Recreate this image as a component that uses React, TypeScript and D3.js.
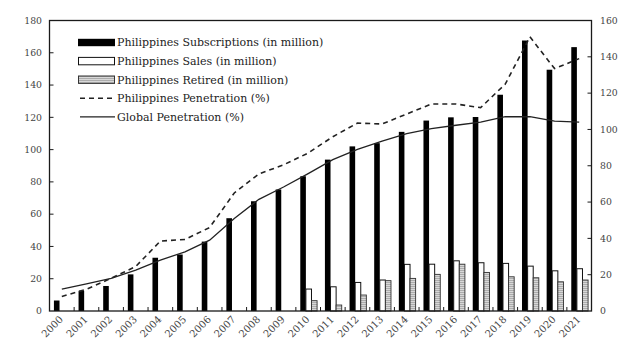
import React from "react";
import * as d3 from "d3";

// Years on the category axis
const years = [
  "2000", "2001", "2002", "2003", "2004", "2005", "2006", "2007", "2008", "2009", "2010",
  "2011", "2012", "2013", "2014", "2015", "2016", "2017", "2018", "2019", "2020", "2021",
];

// Millions (left axis)
const subscriptions = [6.5, 12.5, 15.5, 22.7, 33, 35, 43, 57.5, 68, 75.3, 83.5, 93.8, 102, 104, 111, 118, 120, 120.2, 134, 167.6, 149.5, 163.5];
const sales = [null, null, null, null, null, null, null, null, null, null, 13.6, 15, 17.7, 19.2, 28.9, 29, 31.1, 29.9, 29.5, 27.8, 24.9, 26.2];
const retired = [null, null, null, null, null, null, null, null, null, null, 6.4, 3.7, 9.9, 18.8, 20.2, 22.7, 29, 23.9, 21.2, 20.6, 18.1, 19.2];

// Percent (right axis)
const phPenetration = [8, 12, 18, 24.5, 38.5, 39.4, 46, 65, 75.5, 80.5, 87, 96, 103.5, 103, 108.5, 114, 114, 112, 125, 151, 133.5, 139];
const globalPenetration = [12, 15, 18, 22.5, 28, 32.6, 39, 51, 61.5, 68.3, 75.7, 83.4, 89, 93.6, 97.7, 100.4, 102.3, 104, 107, 107, 104.6, 104];

const leftTicks = [0, 20, 40, 60, 80, 100, 120, 140, 160, 180];
const rightTicks = [0, 20, 40, 60, 80, 100, 120, 140, 160];

const legendItems = [
  { label: "Philippines Subscriptions (in million)", kind: "black" },
  { label: "Philippines Sales (in million)", kind: "white" },
  { label: "Philippines Retired (in million)", kind: "gray" },
  { label: "Philippines Penetration (%)", kind: "dash" },
  { label: "Global Penetration (%)", kind: "line" },
];

const W = 631;
const H = 356;
const left = 49.5;
const right = 591.5;
const top = 20.5;
const bottom = 311;
const FONT = "'DejaVu Serif', 'Liberation Serif', serif";
const INK = "#1a1a1a";

export default function App() {
  const x = d3.scaleBand<string>().domain(years).range([left, right]).padding(0);
  const yL = d3.scaleLinear().domain([0, 180]).range([bottom, top]);
  const yR = d3.scaleLinear().domain([0, 160]).range([bottom, top]);
  const bw = x.bandwidth();
  const barW = 5.6;
  const pad = (bw - 3 * barW) / 2 + 0.5;

  const line = d3
    .line<number>()
    .x((_, i) => (x(years[i]) as number) + bw / 2)
    .y((v) => yR(v));

  return (
    <svg
      width={W}
      height={H}
      style={{ position: "absolute", left: 0, top: 0, background: "#fff" }}
      fontFamily={FONT}
    >
      <defs>
        <pattern id="hatch" width="4" height="2" patternUnits="userSpaceOnUse">
          <rect width="4" height="2" fill="#d8d8d8" />
          <line x1="0" y1="0.5" x2="4" y2="0.5" stroke="#999" strokeWidth="0.7" />
        </pattern>
      </defs>

      {/* bars */}
      {years.map((yr, i) => {
        const x0 = (x(yr) as number) + pad;
        const s = subscriptions[i];
        const sa = sales[i];
        const re = retired[i];
        return (
          <g key={yr}>
            <rect x={x0} y={yL(s)} width={barW} height={bottom - yL(s)} fill="#000" />
            {sa != null && (
              <rect
                x={x0 + barW}
                y={yL(sa)}
                width={barW}
                height={bottom - yL(sa)}
                fill="#fff"
                stroke="#111"
                strokeWidth={1}
              />
            )}
            {re != null && (
              <rect
                x={x0 + 2 * barW}
                y={yL(re)}
                width={barW}
                height={bottom - yL(re)}
                fill="url(#hatch)"
                stroke="#333"
                strokeWidth={0.9}
              />
            )}
          </g>
        );
      })}

      {/* penetration lines */}
      <path d={line(phPenetration) || ""} fill="none" stroke="#222" strokeWidth={1.6} strokeDasharray="5,4" />
      <path d={line(globalPenetration) || ""} fill="none" stroke="#222" strokeWidth={1.3} />

      {/* frame */}
      <rect x={left} y={top} width={right - left} height={bottom - top} fill="none" stroke={INK} strokeWidth={1.3} />

      {/* category ticks */}
      {years.slice(1).map((yr) => (
        <line key={yr} x1={x(yr)} x2={x(yr)} y1={bottom} y2={bottom - 4} stroke={INK} strokeWidth={1} />
      ))}

      {/* left axis */}
      {leftTicks.map((t) => (
        <g key={"l" + t}>
          {t > 0 && t < 180 && <line x1={left} x2={left + 4} y1={yL(t)} y2={yL(t)} stroke={INK} strokeWidth={1} />}
          <text x={42} y={yL(t)} dy="0.35em" textAnchor="end" fontSize={9.3} fill="#444">
            {t}
          </text>
        </g>
      ))}

      {/* right axis */}
      {rightTicks.map((t) => (
        <g key={"r" + t}>
          {t > 0 && t < 160 && <line x1={right - 4} x2={right} y1={yR(t)} y2={yR(t)} stroke={INK} strokeWidth={1} />}
          <text x={600} y={yR(t)} dy="0.35em" textAnchor="start" fontSize={9.3} fill="#444">
            {t}
          </text>
        </g>
      ))}

      {/* year labels */}
      {years.map((yr) => {
        const cx = (x(yr) as number) + bw / 2 + 2;
        const cy = bottom + 9;
        return (
          <text
            key={"x" + yr}
            x={cx}
            y={cy}
            textAnchor="end"
            fontSize={10}
            fill="#444"
            transform={`rotate(-45 ${cx} ${cy})`}
          >
            {yr}
          </text>
        );
      })}

      {/* legend */}
      {legendItems.map((item, i) => {
        const cy = 42.5 + i * 18.6;
        const sx = 78;
        const sw = 37;
        let swatch: React.ReactNode = null;
        if (item.kind === "black") {
          swatch = <rect x={sx} y={cy - 3.7} width={sw} height={7.4} fill="#000" />;
        } else if (item.kind === "white") {
          swatch = <rect x={sx + 0.5} y={cy - 3.7} width={sw - 1} height={7.4} fill="#fff" stroke="#111" strokeWidth={1} />;
        } else if (item.kind === "gray") {
          swatch = <rect x={sx + 0.5} y={cy - 3.7} width={sw - 1} height={7.4} fill="url(#hatch)" stroke="#333" strokeWidth={1} />;
        } else if (item.kind === "dash") {
          swatch = <line x1={sx + 2} x2={sx + sw} y1={cy} y2={cy} stroke="#222" strokeWidth={1.6} strokeDasharray="5,4" />;
        } else {
          swatch = <line x1={sx + 2} x2={sx + sw} y1={cy} y2={cy} stroke="#222" strokeWidth={1.3} />;
        }
        return (
          <g key={item.label}>
            {swatch}
            <text x={117} y={cy} dy="0.35em" fontSize={11} fill="#222">
              {item.label}
            </text>
          </g>
        );
      })}
    </svg>
  );
}
